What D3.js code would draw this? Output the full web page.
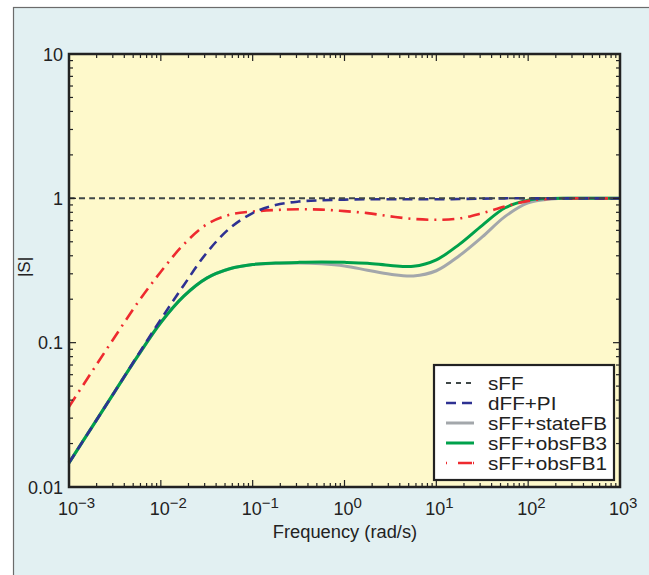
<!DOCTYPE html>
<html>
<head>
<meta charset="utf-8">
<script src="https://cdn.jsdelivr.net/npm/d3@7"></script>
<style>
  body { margin: 0; background: #fff; }
  text { font-family: "Liberation Sans", Arial, sans-serif; fill: #222; }
</style>
</head>
<body>
<svg id="chart" width="649" height="575" viewBox="0 0 649 575"></svg>
<script>
// log10 of frequency (rad/s) sample points
const logFreq = [-3, -2.75, -2.5, -2.25, -2, -1.75, -1.5, -1.25, -1, -0.75, -0.5, -0.25,
  0, 0.25, 0.5, 0.75, 1, 1.25, 1.5, 1.75, 2, 2.25, 2.5, 2.75, 3];

// |S|
const sFF = logFreq.map(() => 1);
const dFF_PI = [0.0147, 0.026, 0.046, 0.082, 0.145, 0.25, 0.42, 0.62, 0.79, 0.90, 0.95, 0.97,
  0.98, 0.985, 0.985, 0.985, 0.985, 0.99, 0.995, 1, 1, 1, 1, 1, 1];
const sFF_stateFB = [0.0147, 0.026, 0.046, 0.081, 0.138, 0.21, 0.28, 0.325, 0.348, 0.355, 0.357, 0.352,
  0.34, 0.318, 0.298, 0.29, 0.315, 0.40, 0.54, 0.75, 0.93, 0.99, 1, 1, 1];
const sFF_obsFB3 = [0.0147, 0.026, 0.046, 0.081, 0.138, 0.21, 0.28, 0.325, 0.348, 0.356, 0.36, 0.362,
  0.36, 0.355, 0.343, 0.338, 0.375, 0.48, 0.65, 0.86, 0.97, 0.998, 1, 1, 1];
const sFF_obsFB1 = [0.036, 0.063, 0.11, 0.19, 0.31, 0.48, 0.66, 0.77, 0.81, 0.83, 0.84, 0.835,
  0.815, 0.79, 0.75, 0.72, 0.71, 0.725, 0.79, 0.88, 0.96, 0.995, 1, 1, 1];

const seriesNames = ["sFF", "dFF+PI", "sFF+stateFB", "sFF+obsFB3", "sFF+obsFB1"];
const seriesValues = [sFF, dFF_PI, sFF_stateFB, sFF_obsFB3, sFF_obsFB1];
const xTickExp = [-3, -2, -1, 0, 1, 2, 3];
const yTicks = [0.01, 0.1, 1, 10];
const yTickLabels = ["0.01", "0.1", "1", "10"];

const styles = [
  { color: "#3f4747", width: 2, dash: "6,4" },
  { color: "#2e3192", width: 2.6, dash: "10,6" },
  { color: "#a3a7ab", width: 3, dash: null },
  { color: "#00a14b", width: 3, dash: null },
  { color: "#ee2a2f", width: 2.6, dash: "12,6,2,6" }
];

const svg = d3.select("#chart");
const m = { left: 69, right: 620, top: 54, bottom: 487 };

// background panel
svg.append("rect").attr("x", 13.5).attr("y", 7.5).attr("width", 660).attr("height", 600)
  .attr("fill", "#e2f0f2").attr("stroke", "#6b6b6b").attr("stroke-width", 1.2);

const x = d3.scaleLog().domain([1e-3, 1e3]).range([m.left, m.right]);
const y = d3.scaleLog().domain([0.01, 10]).range([m.bottom, m.top]);

svg.append("rect").attr("x", m.left).attr("y", m.top)
  .attr("width", m.right - m.left).attr("height", m.bottom - m.top)
  .attr("fill", "#fef9cb");

const plot = svg.append("g");
const line = d3.line()
  .x((d, i) => x(Math.pow(10, logFreq[i])))
  .y(d => y(d))
  .curve(d3.curveCatmullRom.alpha(0.5));

// draw in an order so green sits over grey
[2, 3, 4, 1, 0].forEach(k => {
  plot.append("path")
    .datum(seriesValues[k])
    .attr("d", line)
    .attr("fill", "none")
    .attr("stroke", styles[k].color)
    .attr("stroke-width", styles[k].width)
    .attr("stroke-dasharray", styles[k].dash);
});

// ticks (inside, all four sides)
const ticks = svg.append("g").attr("stroke", "#222").attr("stroke-width", 1.2);
const xMinor = [];
for (let e = -3; e < 3; e++) for (let k = 1; k < 10; k++) xMinor.push({ v: k * Math.pow(10, e), major: k === 1 });
xMinor.push({ v: 1e3, major: true });
xMinor.forEach(t => {
  const px = x(t.v), len = t.major ? 7 : 4;
  ticks.append("line").attr("x1", px).attr("x2", px).attr("y1", m.bottom).attr("y2", m.bottom - len);
  ticks.append("line").attr("x1", px).attr("x2", px).attr("y1", m.top).attr("y2", m.top + len);
});
const yMinor = [];
for (let e = -2; e < 1; e++) for (let k = 1; k < 10; k++) yMinor.push({ v: k * Math.pow(10, e), major: k === 1 });
yMinor.push({ v: 10, major: true });
yMinor.forEach(t => {
  const py = y(t.v), len = t.major ? 7 : 4;
  ticks.append("line").attr("y1", py).attr("y2", py).attr("x1", m.left).attr("x2", m.left + len);
  ticks.append("line").attr("y1", py).attr("y2", py).attr("x1", m.right).attr("x2", m.right - len);
});

// frame
svg.append("rect").attr("x", m.left).attr("y", m.top)
  .attr("width", m.right - m.left).attr("height", m.bottom - m.top)
  .attr("fill", "none").attr("stroke", "#222").attr("stroke-width", 2.5);

// x tick labels: "10" centred on the tick, exponent hanging right
xTickExp.forEach(e => {
  const px = x(Math.pow(10, e));
  svg.append("text").attr("x", px - 1).attr("y", 515)
    .attr("text-anchor", "middle").attr("font-size", 18).text("10");
  svg.append("text").attr("x", px + 9).attr("y", 508)
    .attr("font-size", 15).text(e < 0 ? "\u2212" + (-e) : e);
});

// y tick labels
yTicks.forEach((v, i) => {
  svg.append("text").attr("x", 63).attr("y", y(v) + 6.5)
    .attr("text-anchor", "end").attr("font-size", 18).text(yTickLabels[i]);
});

svg.append("text").attr("x", 345).attr("y", 538).attr("text-anchor", "middle")
  .attr("font-size", 18.3).text("Frequency (rad/s)");
svg.append("text").attr("transform", "translate(30,267) rotate(-90)")
  .attr("text-anchor", "middle").attr("font-size", 17).text("|S|");

// legend
const lg = svg.append("g");
lg.append("rect").attr("x", 434).attr("y", 365).attr("width", 180).attr("height", 115)
  .attr("fill", "#fff").attr("stroke", "#222").attr("stroke-width", 2.2);
seriesNames.forEach((name, i) => {
  const ly = 383 + i * 20;
  lg.append("line").attr("x1", 446).attr("x2", 474).attr("y1", ly).attr("y2", ly)
    .attr("stroke", styles[i].color).attr("stroke-width", styles[i].width)
    .attr("stroke-dasharray", i === 4 ? "1,11,14" : (i === 0 ? "5,5" : styles[i].dash));
  lg.append("text").attr("transform", `translate(488,${ly + 6.5}) scale(1.15,1)`)
    .attr("font-size", 18).text(name);
});
</script>
</body>
</html>
